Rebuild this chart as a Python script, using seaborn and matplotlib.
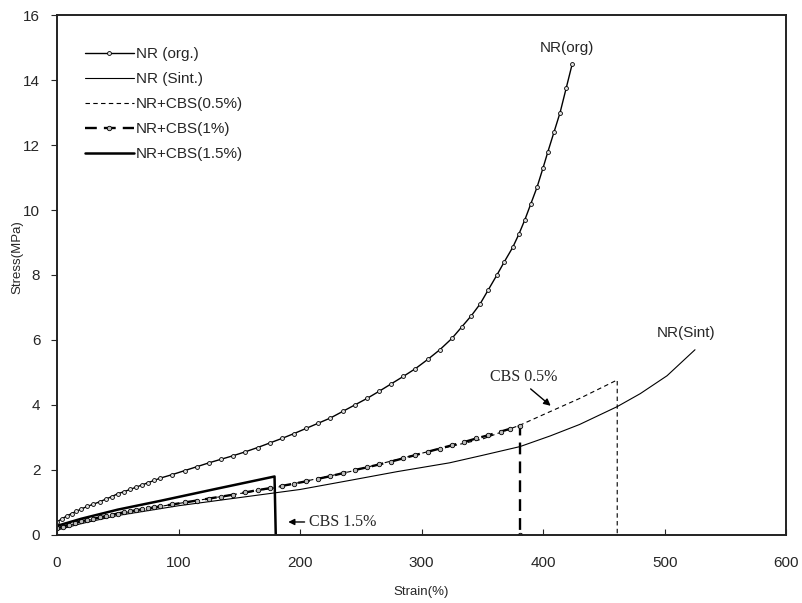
import matplotlib
matplotlib.use("Agg")
import matplotlib.pyplot as plt
import seaborn as sns

# ── Data ───────────────────────────────────────────────────────────────────
org_x = [0, 4, 8, 12, 16, 20, 25, 30, 35, 40, 45, 50, 55, 60, 65, 70, 75, 80, 85,
         95, 105, 115, 125, 135, 145, 155, 165, 175, 185, 195, 205, 215, 225,
         235, 245, 255, 265, 275, 285, 295, 305, 315, 325, 333, 341, 348, 355,
         362, 368, 375, 380, 385, 390, 395, 400, 404, 409, 414, 419, 424]
org_y = [0.40, 0.50, 0.58, 0.66, 0.73, 0.80, 0.88, 0.95, 1.02, 1.10, 1.18, 1.27,
         1.33, 1.40, 1.47, 1.54, 1.61, 1.68, 1.75, 1.86, 1.98, 2.10, 2.22, 2.33,
         2.44, 2.56, 2.69, 2.83, 2.97, 3.12, 3.28, 3.44, 3.60, 3.80, 4.00, 4.20,
         4.42, 4.65, 4.88, 5.12, 5.40, 5.70, 6.05, 6.40, 6.75, 7.10, 7.55, 8.00,
         8.40, 8.85, 9.25, 9.70, 10.20, 10.70, 11.30, 11.80, 12.40, 13.00, 13.75, 14.50]

sint_x = [0, 20, 50, 100, 150, 200, 241, 280, 323, 350, 381, 406, 430, 461, 480, 502, 525]
sint_y = [0.15, 0.35, 0.60, 0.90, 1.15, 1.40, 1.68, 1.95, 2.22, 2.45, 2.72, 3.05,
          3.40, 3.95, 4.35, 4.90, 5.70]

cbs05_x = [0, 20, 50, 85, 130, 179, 241, 309, 350, 381, 400, 430, 461, 461]
cbs05_y = [0.20, 0.40, 0.65, 0.88, 1.15, 1.45, 1.95, 2.60, 2.95, 3.38, 3.70, 4.20, 4.77, 0]

cbs1_x = [0, 5, 10, 15, 20, 25, 30, 35, 40, 45, 50, 55, 60, 65, 70, 75, 80, 85,
          95, 105, 115, 125, 135, 145, 155, 165, 175, 185, 195, 205, 215, 225,
          235, 245, 255, 265, 275, 285, 295, 305, 315, 325, 335, 345, 355, 365,
          373, 381, 381]
cbs1_y = [0.20, 0.26, 0.32, 0.37, 0.42, 0.46, 0.50, 0.54, 0.58, 0.62, 0.66, 0.70,
          0.73, 0.76, 0.79, 0.82, 0.85, 0.88, 0.94, 1.00, 1.06, 1.12, 1.18, 1.24,
          1.31, 1.38, 1.44, 1.51, 1.58, 1.65, 1.73, 1.81, 1.90, 2.00, 2.08, 2.17,
          2.26, 2.36, 2.46, 2.56, 2.66, 2.76, 2.86, 2.97, 3.07, 3.18, 3.27, 3.35, 0]

cbs15_x = [0, 20, 50, 85, 131, 150, 179, 180]
cbs15_y = [0.28, 0.50, 0.78, 1.05, 1.42, 1.57, 1.80, 0]

labels = ["NR (org.)", "NR (Sint.)", "NR+CBS(0.5%)", "NR+CBS(1%)", "NR+CBS(1.5%)"]

# ── Figure ────────────────────────────────────────────────────────────────
sns.set_style("white")
plt.rcParams["font.family"] = ["Liberation Sans", "DejaVu Sans"]

fig = plt.figure(figsize=(8.03, 6.03), dpi=100)
ax = fig.add_axes([0.071, 0.1128, 0.908, 0.8623])

common = dict(ax=ax, estimator=None, sort=False, legend=False, color="black")
sns.lineplot(x=org_x, y=org_y, lw=1.0, marker="o", markersize=2.8,
             markerfacecolor="#dddddd", markeredgecolor="black", markeredgewidth=0.6,
             label=labels[0], **common)
sns.lineplot(x=sint_x, y=sint_y, lw=0.8, label=labels[1], **common)
sns.lineplot(x=cbs05_x, y=cbs05_y, lw=0.8, linestyle=(0, (4, 3)),
             label=labels[2], **common)
sns.lineplot(x=cbs1_x, y=cbs1_y, lw=1.7, linestyle=(0, (5, 3)), marker="o",
             markersize=3.2, markerfacecolor="#bbbbbb", markeredgecolor="black",
             markeredgewidth=0.6, label=labels[3], **common)
sns.lineplot(x=cbs15_x, y=cbs15_y, lw=1.8, label=labels[4], **common)

ax.set_xlim(0, 600)
ax.set_ylim(0, 16)
ax.set_xticks(range(0, 601, 100))
ax.set_yticks(range(0, 17, 2))
ax.tick_params(axis="x", direction="in", length=4, pad=15, labelsize=11, bottom=True)
ax.tick_params(axis="y", direction="out", length=4, pad=8, labelsize=11, left=True)
for s in ax.spines.values():
    s.set_color("#222222")
    s.set_linewidth(1.4)

ax.set_xlabel("Strain(%)", fontsize=9.5)
ax.set_ylabel("Stress(MPa)", fontsize=9.5)
ax.xaxis.set_label_coords(0.5, -0.098)
ax.yaxis.set_label_coords(-0.046, 0.535)

# curve labels
ax.text(397, 15.0, "NR(org)", fontsize=11, va="center", ha="left")
ax.text(518, 6.2, "NR(Sint)", fontsize=11, va="center", ha="center")
ax.text(384, 4.85, "CBS 0.5%", fontsize=11.5, family="Liberation Serif",
        va="center", ha="center")
ax.annotate("", xy=(408, 3.92), xytext=(388, 4.55),
            arrowprops=dict(arrowstyle="-|>", color="black", lw=1, mutation_scale=10))
ax.text(207, 0.4, "CBS 1.5%", fontsize=11.5, family="Liberation Serif",
        va="center", ha="left")
ax.annotate("", xy=(188, 0.4), xytext=(206, 0.4),
            arrowprops=dict(arrowstyle="-|>", color="black", lw=1, mutation_scale=9))

ax.legend(loc="upper left", bbox_to_anchor=(0.03, 0.95), frameon=False,
          fontsize=11, handlelength=3.2, handletextpad=0.15, labelspacing=0.72,
          borderaxespad=0)

fig.savefig("out.png", dpi=100)
